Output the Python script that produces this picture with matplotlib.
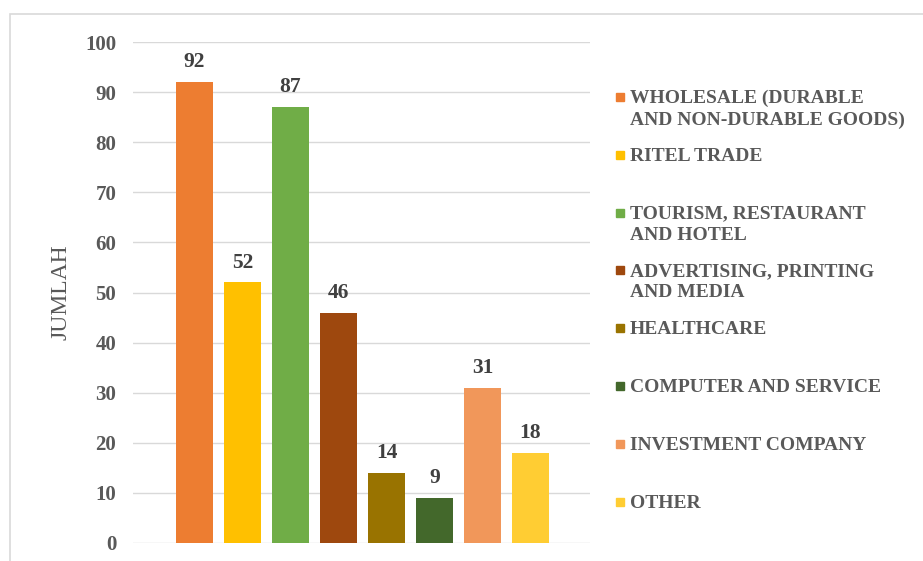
import matplotlib.pyplot as plt
from matplotlib.patches import Rectangle

categories = [
    "WHOLESALE (DURABLE\nAND NON-DURABLE GOODS)",
    "RITEL TRADE",
    "TOURISM, RESTAURANT\nAND HOTEL",
    "ADVERTISING, PRINTING\nAND MEDIA",
    "HEALTHCARE",
    "COMPUTER AND SERVICE",
    "INVESTMENT COMPANY",
    "OTHER",
]
values = [92, 52, 87, 46, 14, 9, 31, 18]
colors = ["#ED7D31", "#FFC000", "#70AD47", "#9E480E",
          "#997300", "#43682B", "#F1975A", "#FFCD33"]
yticks = [0, 10, 20, 30, 40, 50, 60, 70, 80, 90, 100]

W, H = 923, 561
fig = plt.figure(figsize=(W / 100, H / 100), dpi=100)
plt.rcParams['font.family'] = ['Liberation Serif', 'DejaVu Serif']

# axes placed in pixel terms
left, right, top, bottom = 133, 590, 42, 543
ax = fig.add_axes([left / W, 1 - bottom / H, (right - left) / W, (bottom - top) / H])

x = list(range(len(values)))
bars = ax.bar(x, values, width=0.77, color=colors, zorder=3)
for xi, v in zip(x, values):
    ax.annotate(str(v), (xi, v), xytext=(0, 7), textcoords="offset points",
                ha="center", va="bottom", fontsize=15.5, fontweight="bold",
                color="#404040")

ax.set_ylim(0, 100)
ax.set_xlim(-1.28, 8.24)
ax.set_yticks(yticks)
ax.set_xticks([])
ax.tick_params(axis="y", length=0, pad=12, labelsize=15, labelcolor="#595959")
for lab in ax.get_yticklabels():
    lab.set_fontweight("bold")
ax.grid(axis="y", color="#D9D9D9", linewidth=1, zorder=0)
for s in ax.spines.values():
    s.set_visible(False)
ax.set_ylabel("JUMLAH", fontsize=17, color="#595959", labelpad=10)

# legend drawn as Excel-like wrapped entries
for i, (lab, c) in enumerate(zip(categories, colors)):
    yc = 97 + 57.8 * i
    fig.patches.append(Rectangle((616 / W, 1 - (yc + 4) / H), 8 / W, 8 / H,
                                 transform=fig.transFigure, color=c))
    fig.text(630 / W, 1 - (yc - 7) / H, lab, ha="left", va="top",
             fontsize=14, fontweight="bold", color="#595959", linespacing=1.3)

# chart area border
fig.patches.append(Rectangle((10 / W, -0.05), 1.1, 1.05 - 14 / H,
                             transform=fig.transFigure, fill=False,
                             edgecolor="#D9D9D9", linewidth=1.2))

fig.savefig("out.png", dpi=100)
